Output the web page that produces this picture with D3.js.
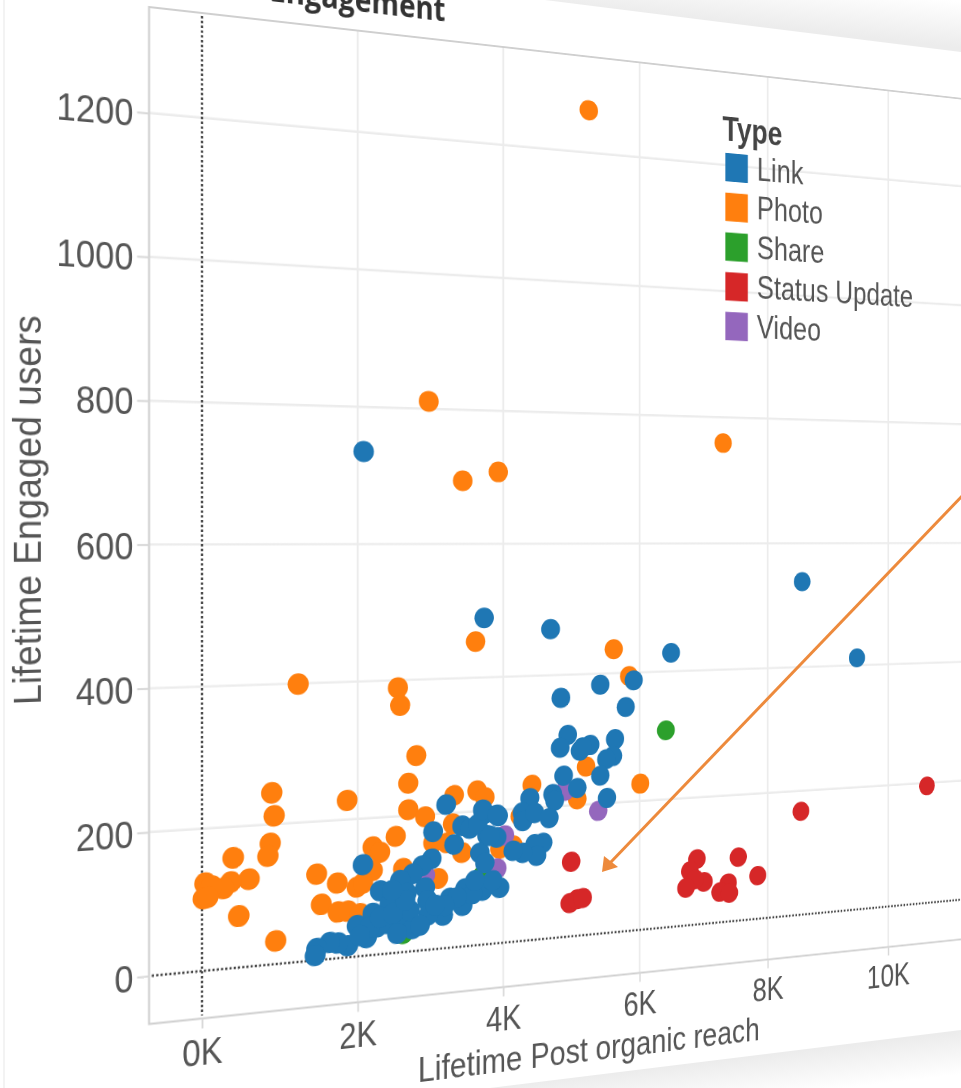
<!DOCTYPE html>
<html><head><meta charset="utf-8">
<script src="https://cdn.jsdelivr.net/npm/d3@7"></script>
<style>
html,body{margin:0;padding:0;width:961px;height:1088px;overflow:hidden;background:#fff}
svg{position:absolute;left:0;top:0;overflow:visible}
#chart{transform-origin:0 0}
text{font-family:"Liberation Sans",Arial,sans-serif;fill:#555}
</style></head><body>
<svg id="back" width="961" height="1088"></svg>
<svg id="chart" width="1400" height="1200"></svg>
<svg id="front" width="961" height="1088"></svg>
<script>
const types = ["Link","Photo","Share","Status Update","Video"];
const colors = ["#1f77b4","#ff7f0e","#2ca02c","#d62728","#9467bd"];
const xTicks = [0,2000,4000,6000,8000,10000];
const yTicks = [0,200,400,600,800,1000,1200];

const photoReach = [5240,2960,3430,3930,7290,3610,5610,5840,1220,2540,2570,2790,2680,2680,880,910,860,830,390,1460,590,360,270,40,120,20,70,460,930,1860,1730,1520,1740,1870,1990,2200,2300,2200,2070,2030,2510,2910,3310,3630,3740,4410,3290,3020,3210,3420,3950,4140,4240,3090,2610,5200,6010,5070];
const photoUsers = [1265,811,694,708,759,454,437,395,399,389,363,288,248,209,245,212,173,155,156,124,124,122,114,123,118,102,103,73,33,228,109,80,67,67,101,158,149,123,106,62,171,197,226,231,220,235,184,158,156,140,142,145,189,104,123,258,227,209];
const linkReach = [2080,3730,4680,6480,8560,9470,4830,5410,5910,5790,4930,4820,5260,5110,5150,5630,5600,5500,4870,5070,5410,5510,4710,4740,4380,4270,4280,4450,4660,4570,4450,4480,4280,4140,3930,3740,3910,3770,3200,3420,3530,3640,3710,3910,3020,3310,3670,3740,3810,3950,3710,3850,3460,3430,3250,3160,3000,2870,2740,2570,2300,2070,2910,2940,2660,1990,2120,2260,2430,2200,2390,2570,2740,2950,2700,2160,2300,2470,1870,1740,1630,1460,1440,3570,3350,3180,2840,2530,2030,2640,2460,3050,3600];
const linkUsers = [735,489,470,429,538,412,365,383,388,347,308,289,291,283,288,298,272,268,246,226,243,208,219,209,215,194,181,192,183,146,145,127,133,137,191,196,159,163,213,180,175,181,202,193,174,153,138,122,162,83,81,95,86,61,74,49,134,125,114,106,93,133,92,73,86,45,26,40,73,61,44,47,33,51,60,41,54,58,17,22,24,17,7,77,74,63,37,28,30,76,92,65,97];
const shareReach = [6400,3700,2610];
const shareUsers = [308,103,27];
const statusReach = [4980,4960,5070,5150,6880,6770,6990,6850,6710,7370,7240,7390,7530,7840,8540,10670];
const statusUsers = [114,51,56,57,103,85,66,71,59,61,48,45,101,69,167,195];
const videoReach = [5380,3910,4020,4890,2910];
const videoUsers = [189,112,161,223,110];

// one photograph-like perspective: vertical lines stay vertical, horizontals converge to the right
const pxPerK = 90, a = 84.07, g = 0.0174, d = 9.32, x0 = 202, y0 = 971;
const m11 = a/pxPerK, m12 = d/pxPerK, m14 = g/pxPerK;
const m41 = x0 - x0*m11, m42 = -x0*m12, m44 = 1 - x0*m14;
d3.select("#chart").style("transform",
  `matrix3d(${m11},${m12},0,${m14}, 0,1,0,0, 0,0,1,0, ${m41},${m42},0,${m44})`);

const x = d3.scaleLinear().domain([0,12000]).range([x0, x0 + 12*pxPerK]);
const y = d3.scaleLinear().domain([0,1200]).range([y0, y0 - 853.2]);

const left = x(-650), right = x(12000), top_ = 13, bottom = 1018.5;
const svg = d3.select("#chart");

// background layer: sheet edge and shadows
const back = d3.select("#back");
const defs = back.append("defs");
function grad(id,x1,y1,x2,y2){
  const lg = defs.append("linearGradient").attr("id",id).attr("gradientUnits","userSpaceOnUse")
    .attr("x1",x1).attr("y1",y1).attr("x2",x2).attr("y2",y2);
  lg.append("stop").attr("offset",0).attr("stop-color","#ececec");
  lg.append("stop").attr("offset",1).attr("stop-color","#ffffff");
}
grad("gt",760,26,765,-20);
grad("gb",740,1058,745,1100);
back.append("polygon").attr("points","545,0 961,52 961,0").attr("fill","url(#gt)");
back.append("polygon").attr("points","490,1088 961,1030 961,1088").attr("fill","url(#gb)");
back.append("line").attr("x1",4).attr("x2",4).attr("y1",0).attr("y2",1088).attr("stroke","#efefef").attr("stroke-width",1.5);

// grid
svg.append("g").selectAll("line").data(xTicks.slice(1)).join("line")
  .attr("x1",d=>x(d)).attr("x2",d=>x(d)).attr("y1",top_).attr("y2",bottom)
  .attr("stroke","#ececec").attr("stroke-width",2.4);
svg.append("g").selectAll("line").data(yTicks.slice(1)).join("line")
  .attr("x1",left).attr("x2",right).attr("y1",d=>y(d)).attr("y2",d=>y(d))
  .attr("stroke","#ececec").attr("stroke-width",2.4);

// panel border
svg.append("path").attr("fill","none").attr("stroke","#cfcfcf").attr("stroke-width",2.2)
  .attr("d",`M${right},${top_}H${left}V${bottom}H${right}`);

// zero lines
svg.append("line").attr("x1",x(0)).attr("x2",x(0)).attr("y1",top_+3).attr("y2",bottom-3)
  .attr("stroke","#444").attr("stroke-width",2.5).attr("stroke-dasharray","2.4 2.4");
svg.append("line").attr("x1",left+3).attr("x2",right).attr("y1",y(0)).attr("y2",y(0))
  .attr("stroke","#444").attr("stroke-width",2.5).attr("stroke-dasharray","2.4 2.4");

// axes
const xAxis = svg.append("g").attr("transform",`translate(0,${bottom})`)
  .call(d3.axisBottom(x).tickValues(xTicks).tickFormat(v=>`${v/1000}K`).tickSize(10).tickPadding(10));
const yAxis = svg.append("g").attr("transform",`translate(${left},0)`)
  .call(d3.axisLeft(y).tickValues(yTicks).tickFormat(d3.format("d")).tickSize(13).tickPadding(4));
[xAxis,yAxis].forEach(ax=>{
  ax.select(".domain").remove();
  ax.selectAll("line").attr("stroke","#d8d8d8").attr("stroke-width",2);
  ax.selectAll("text").attr("fill","#555").style("fill","#555");
});
xAxis.selectAll("text").style("font-size","37px").style("font-family",'"Liberation Sans",Arial,sans-serif');
yAxis.selectAll("text").attr("dy",".37em").style("font-size","37px").style("font-family",'"Liberation Sans",Arial,sans-serif');

// axis titles and cropped heading
svg.append("text").attr("x",x(2810)).attr("y",1109).attr("font-size",37.6).text("Lifetime Post organic reach");
svg.append("text").attr("transform","translate(28,511) scale(1.16,1) rotate(-90)").attr("text-anchor","middle")
  .attr("font-size",35.8).text("Lifetime Engaged users");
svg.append("text").attr("x",x(3190)).attr("y",-7).attr("text-anchor","end").attr("font-size",34)
  .attr("font-weight","bold").style("font-family",'"Open Sans",sans-serif').style("fill","#333").text("Engagement");

// points: orange first, blue on top
const series = [
  ["Photo",photoReach,photoUsers],
  ["Status Update",statusReach,statusUsers],
  ["Share",shareReach,shareUsers],
  ["Video",videoReach,videoUsers],
  ["Link",linkReach,linkUsers]
];
const colour = d3.scaleOrdinal().domain(types).range(colors);
series.forEach(([name,rx,ry])=>{
  svg.append("g").selectAll("ellipse").data(d3.zip(rx,ry)).join("ellipse")
    .attr("cx",p=>x(p[0])).attr("cy",p=>y(p[1])).attr("rx",12.3).attr("ry",11).attr("fill",colour(name));
});

// legend
const lg = svg.append("g").attr("transform",`translate(${x(7270)},0)`);
lg.append("text").attr("x",1).attr("y",90).attr("font-size",38).attr("font-weight","bold").style("fill","#444").text("Type");
const rows = lg.selectAll("g").data(types).join("g").attr("transform",(t,i)=>`translate(0,${104+i*44.8})`);
rows.append("rect").attr("x",5).attr("width",32).attr("height",32).attr("fill",t=>colour(t));
rows.append("text").attr("x",50).attr("y",27.5).attr("font-size",37).text(t=>t);

// annotation arrow, drawn on top of the tilted sheet
const front = d3.select("#front");
front.append("line").attr("x1",965).attr("y1",493).attr("x2",610).attr("y2",863)
  .attr("stroke","#ed8a3c").attr("stroke-width",3);
front.append("path").attr("d","M602,872L604,856L618,867Z").attr("fill","#ed8a3c");
</script>
</body></html>
